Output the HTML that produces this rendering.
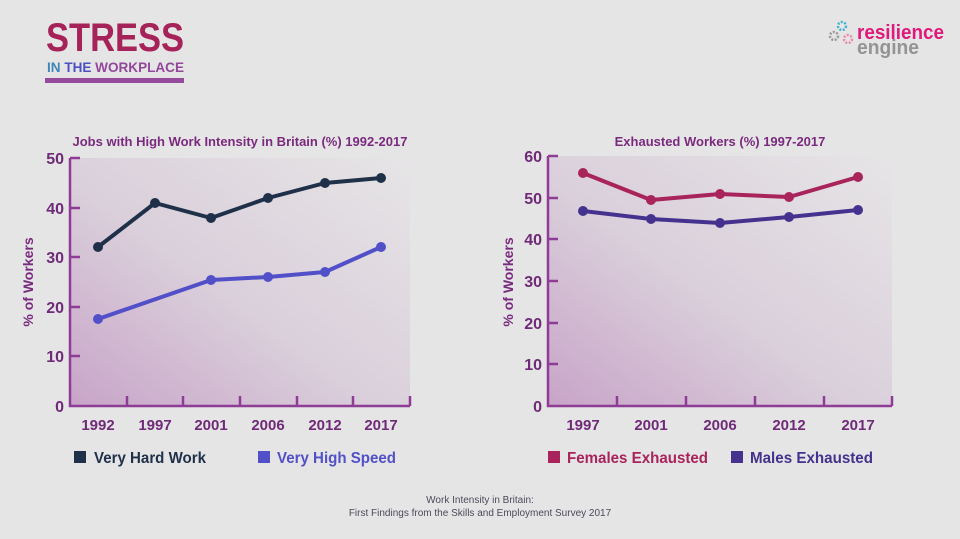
<!DOCTYPE html>
<html><head><meta charset="utf-8"><style>
html,body{margin:0;padding:0;background:#e6e5e6;}
svg{display:block;font-family:"Liberation Sans",sans-serif;}
</style></head><body>
<svg width="960" height="539" viewBox="0 0 960 539" xmlns="http://www.w3.org/2000/svg">
<defs>
<linearGradient id="g1" x1="0" y1="1" x2="1" y2="0">
<stop offset="0" stop-color="#c8a4c8"/><stop offset="0.45" stop-color="#dacfdb"/><stop offset="1" stop-color="#e6e5e6"/>
</linearGradient>
</defs>
<rect width="960" height="539" fill="#e6e5e6"/>
<text x="46" y="51" font-size="40" font-weight="bold" fill="#a52358" textLength="138" lengthAdjust="spacingAndGlyphs">STRESS</text>
<text x="47" y="72" font-size="14" font-weight="bold" textLength="137" lengthAdjust="spacingAndGlyphs"><tspan fill="#3f86b8">IN </tspan><tspan fill="#4b4fc2">THE </tspan><tspan fill="#92479a">WORKPLACE</tspan></text>
<rect x="45" y="78" width="139" height="5" fill="#964a9c"/>
<circle cx="842" cy="26" r="4" fill="none" stroke="#3fb3cf" stroke-width="2.5" stroke-dasharray="2 1.5"/>
<circle cx="834" cy="36" r="4" fill="none" stroke="#9a9a9a" stroke-width="2.5" stroke-dasharray="2 1.5"/>
<circle cx="848" cy="39" r="4" fill="none" stroke="#ee88b0" stroke-width="2.5" stroke-dasharray="2 1.5"/>
<text x="857" y="39" font-size="20" font-weight="bold" fill="#e0197a" textLength="87" lengthAdjust="spacingAndGlyphs">resilience</text>
<text x="857" y="54" font-size="20" font-weight="bold" fill="#949494" textLength="62" lengthAdjust="spacingAndGlyphs">engine</text>

<text x="240" y="146" font-size="13" font-weight="bold" fill="#7a2a7e" text-anchor="middle">Jobs with High Work Intensity in Britain (%) 1992-2017</text>
<rect x="70" y="158" width="340" height="248" fill="url(#g1)"/>
<g stroke="#8e3c95" stroke-width="2.5" fill="none">
<path d="M70 158 V406 H410"/>
<path d="M70 158h10M70 208h10M70 257h10M70 307h10M70 356h10"/>
<path d="M127 406v-10M183 406v-10M240 406v-10M297 406v-10M353 406v-10M410 406v-10"/>
</g>
<g font-size="16" font-weight="bold" fill="#6f2a78" text-anchor="end">
<text x="64" y="164">50</text><text x="64" y="214">40</text><text x="64" y="263">30</text><text x="64" y="313">20</text><text x="64" y="362">10</text><text x="64" y="412">0</text>
</g>
<g font-size="15" font-weight="bold" fill="#6f2a78" text-anchor="middle">
<text x="98" y="430">1992</text><text x="155" y="430">1997</text><text x="211" y="430">2001</text><text x="268" y="430">2006</text><text x="325" y="430">2012</text><text x="381" y="430">2017</text>
</g>
<text transform="translate(33 282) rotate(-90)" font-size="14" font-weight="bold" fill="#7a2a7e" text-anchor="middle">% of Workers</text>
<polyline points="98,247 155,203 211,218 268,198 325,183 381,178" fill="none" stroke="#1f3049" stroke-width="4" stroke-linejoin="round"/>
<g fill="#1f3049"><circle cx="98" cy="247" r="5"/><circle cx="155" cy="203" r="5"/><circle cx="211" cy="218" r="5"/><circle cx="268" cy="198" r="5"/><circle cx="325" cy="183" r="5"/><circle cx="381" cy="178" r="5"/></g>
<polyline points="98,319 211,280 268,277 325,272 381,247" fill="none" stroke="#5150c8" stroke-width="4" stroke-linejoin="round"/>
<g fill="#5150c8"><circle cx="98" cy="319" r="5"/><circle cx="211" cy="280" r="5"/><circle cx="268" cy="277" r="5"/><circle cx="325" cy="272" r="5"/><circle cx="381" cy="247" r="5"/></g>
<rect x="74" y="451" width="12" height="12" fill="#1f3049"/>
<text x="94" y="463" font-size="16" font-weight="bold" fill="#1f3049" textLength="112" lengthAdjust="spacingAndGlyphs">Very Hard Work</text>
<rect x="258" y="451" width="12" height="12" fill="#5150c8"/>
<text x="277" y="463" font-size="16" font-weight="bold" fill="#5150c8" textLength="119" lengthAdjust="spacingAndGlyphs">Very High Speed</text>

<text x="720" y="146" font-size="13" font-weight="bold" fill="#7a2a7e" text-anchor="middle">Exhausted Workers (%) 1997-2017</text>
<rect x="548" y="156" width="344" height="250" fill="url(#g1)"/>
<g stroke="#8e3c95" stroke-width="2.5" fill="none">
<path d="M548 156 V406 H892"/>
<path d="M548 156h10M548 198h10M548 239h10M548 281h10M548 323h10M548 364h10"/>
<path d="M617 406v-10M686 406v-10M755 406v-10M824 406v-10M892 406v-10"/>
</g>
<g font-size="16" font-weight="bold" fill="#6f2a78" text-anchor="end">
<text x="542" y="162">60</text><text x="542" y="204">50</text><text x="542" y="245">40</text><text x="542" y="287">30</text><text x="542" y="329">20</text><text x="542" y="370">10</text><text x="542" y="412">0</text>
</g>
<g font-size="15" font-weight="bold" fill="#6f2a78" text-anchor="middle">
<text x="583" y="430">1997</text><text x="651" y="430">2001</text><text x="720" y="430">2006</text><text x="789" y="430">2012</text><text x="858" y="430">2017</text>
</g>
<text transform="translate(513 282) rotate(-90)" font-size="14" font-weight="bold" fill="#7a2a7e" text-anchor="middle">% of Workers</text>
<polyline points="583,173 651,200 720,194 789,197 858,177" fill="none" stroke="#a8245a" stroke-width="4" stroke-linejoin="round"/>
<g fill="#a8245a"><circle cx="583" cy="173" r="5"/><circle cx="651" cy="200" r="5"/><circle cx="720" cy="194" r="5"/><circle cx="789" cy="197" r="5"/><circle cx="858" cy="177" r="5"/></g>
<polyline points="583,211 651,219 720,223 789,217 858,210" fill="none" stroke="#45328f" stroke-width="4" stroke-linejoin="round"/>
<g fill="#45328f"><circle cx="583" cy="211" r="5"/><circle cx="651" cy="219" r="5"/><circle cx="720" cy="223" r="5"/><circle cx="789" cy="217" r="5"/><circle cx="858" cy="210" r="5"/></g>
<rect x="548" y="451" width="12" height="12" fill="#a8245a"/>
<text x="567" y="463" font-size="16" font-weight="bold" fill="#a8245a" textLength="141" lengthAdjust="spacingAndGlyphs">Females Exhausted</text>
<rect x="731" y="451" width="12" height="12" fill="#45328f"/>
<text x="750" y="463" font-size="16" font-weight="bold" fill="#45328f" textLength="123" lengthAdjust="spacingAndGlyphs">Males Exhausted</text>

<text x="480" y="503" font-size="10" fill="#4a4a5a" text-anchor="middle">Work Intensity in Britain:</text>
<text x="480" y="516" font-size="10" fill="#4a4a5a" text-anchor="middle">First Findings from the Skills and Employment Survey 2017</text>
</svg>
</body></html>
